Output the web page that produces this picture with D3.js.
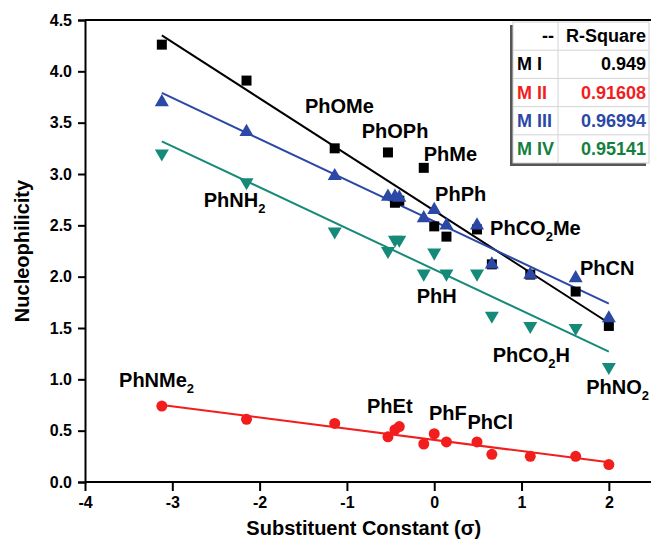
<!DOCTYPE html>
<html>
<head>
<meta charset="utf-8">
<script src="https://cdn.jsdelivr.net/npm/d3@7"></script>
<style>
  body { margin: 0; background: #fff; }
  text { font-family: "Liberation Sans", Arial, sans-serif; font-weight: bold; }
</style>
</head>
<body>
<div id="chart"></div>
<script>
// substituent constants shared by all four series
var sigma = [-3.12, -2.15, -1.14, -0.53, -0.45, -0.40, -0.12, 0.0, 0.14, 0.49, 0.66, 1.10, 1.62, 2.0];

var m1 = [4.26, 3.91, 3.25, 3.21, 2.72, 2.74, 3.06, 2.49, 2.39, 2.46, 2.12, 2.02, 1.855, 1.52];
var m2 = [0.74, 0.61, 0.57, 0.44, 0.51, 0.54, 0.37, 0.47, 0.39, 0.39, 0.27, 0.25, 0.25, 0.17];
var m3 = [3.70, 3.41, 2.98, 2.78, 2.78, 2.77, 2.57, 2.65, 2.50, 2.50, 2.12, 2.02, 1.985, 1.595];
var m4 = [3.20, 2.92, 2.44, 2.25, 2.36, 2.36, 2.03, 2.235, 2.03, 2.03, 1.62, 1.52, 1.50, 1.12];

// fitted lines (intercept, slope) as drawn in the figure
var fitIntercept = [2.643, 0.41, 2.539, 2.07];
var fitSlope = [-0.547, -0.109, -0.401, -0.400];

var seriesNames = ['M I', 'M II', 'M III', 'M IV'];
var rSquare = ['0.949', '0.91608', '0.96994', '0.95141'];

var xTicks = [-4, -3, -2, -1, 0, 1, 2];
var yTicks = [0, 0.5, 1, 1.5, 2, 2.5, 3, 3.5, 4, 4.5];

// compound labels: name, subscript, tail, sigma, value
var labels = [
  ['PhOMe', '', '', -1.48, 3.59],
  ['PhOPh', '', '', -0.83, 3.35],
  ['PhMe', '', '', -0.12, 3.13],
  ['PhPh', '', '', 0.01, 2.74],
  ['PhNH', '2', '', -2.64, 2.68],
  ['PhCO', '2', 'Me', 0.64, 2.41],
  ['PhCN', '', '', 1.67, 2.02],
  ['PhH', '', '', -0.20, 1.74],
  ['PhCO', '2', 'H', 0.67, 1.17],
  ['PhNO', '2', '', 1.74, 0.86],
  ['PhNMe', '2', '', -3.61, 0.93],
  ['PhEt', '', '', -0.77, 0.67],
  ['PhF', '', '', -0.06, 0.60],
  ['PhCl', '', '', 0.38, 0.52]
];

var width = 651, height = 541;
var margin = {left: 85, top: 20, right: -1.5, bottom: 59};

var svg = d3.select('#chart')
    .append('svg')
    .attr('width', width)
    .attr('height', height);

var x = d3.scaleLinear()
    .domain([-4, 2.5])
    .range([margin.left, width - margin.right]);

var y = d3.scaleLinear()
    .domain([0, 4.5])
    .range([height - margin.bottom, margin.top]);

var lineColors = ['#000000', '#f21d1d', '#2b48a6', '#158a78'];
var textColors = ['#000000', '#f21d1d', '#2b48a6', '#15803e'];

// frame top line
svg.append('line')
    .attr('x1', x(-4)).attr('x2', width)
    .attr('y1', y(4.5)).attr('y2', y(4.5))
    .attr('stroke', '#000').attr('stroke-width', 2);

// Axes
var xAxis = svg.append('g')
    .attr('transform', 'translate(0,' + y(0) + ')')
    .call(d3.axisBottom(x).tickValues(xTicks).tickSize(9).tickPadding(6)
        .tickFormat(function(d) { return String(d); }));

var yAxis = svg.append('g')
    .attr('transform', 'translate(' + x(-4) + ',0)')
    .call(d3.axisLeft(y).tickValues(yTicks).tickSize(7).tickPadding(6)
        .tickFormat(function(d) { return d.toFixed(1); }));

[xAxis, yAxis].forEach(function(g) {
  g.select('.domain').attr('stroke-width', 2).attr('stroke', '#000');
  g.selectAll('.tick line').attr('stroke-width', 2).attr('stroke', '#000');
  g.selectAll('.tick text')
      .attr('font-size', 16)
      .attr('font-family', '"Liberation Sans", Arial, sans-serif')
      .attr('font-weight', 'bold')
      .attr('fill', '#000');
});
xAxis.select('.domain').attr('d', 'M' + x(-4) + ',0H' + width);

// Axis titles
svg.append('text')
    .attr('x', (x(-4) + x(2.5)) / 2 - 5)
    .attr('y', 535)
    .attr('text-anchor', 'middle')
    .attr('font-size', 20)
    .text('Substituent Constant (\u03c3)');

svg.append('text')
    .attr('transform', 'translate(29,' + ((y(0) + y(4.5)) / 2) + ') rotate(-90)')
    .attr('text-anchor', 'middle')
    .attr('font-size', 20)
    .text('Nucleophilicity');

// Fit lines
fitIntercept.forEach(function(b, i) {
  var x0 = sigma[0], x1 = sigma[sigma.length - 1];
  svg.append('line')
      .attr('x1', x(x0)).attr('y1', y(b + fitSlope[i] * x0))
      .attr('x2', x(x1)).attr('y2', y(b + fitSlope[i] * x1))
      .attr('stroke', lineColors[i])
      .attr('stroke-width', 2);
});

// Markers
var pts = function(vals) {
  return vals.map(function(v, i) { return {s: sigma[i], v: v}; });
};

svg.append('g').selectAll('rect')
    .data(pts(m1))
    .enter()
    .append('rect')
    .attr('x', function(d) { return x(d.s) - 5; })
    .attr('y', function(d) { return y(d.v) - 5; })
    .attr('width', 10)
    .attr('height', 10)
    .attr('fill', lineColors[0]);

svg.append('g').selectAll('circle')
    .data(pts(m2))
    .enter()
    .append('circle')
    .attr('cx', function(d) { return x(d.s); })
    .attr('cy', function(d) { return y(d.v); })
    .attr('r', 5.5)
    .attr('fill', lineColors[1]);

var tri = d3.symbol().type(d3.symbolTriangle).size(85);

svg.append('g').selectAll('path')
    .data(pts(m3))
    .enter()
    .append('path')
    .attr('d', tri)
    .attr('transform', function(d) { return 'translate(' + x(d.s) + ',' + y(d.v) + ')'; })
    .attr('fill', lineColors[2]);

svg.append('g').selectAll('path')
    .data(pts(m4))
    .enter()
    .append('path')
    .attr('d', tri)
    .attr('transform', function(d) { return 'translate(' + x(d.s) + ',' + y(d.v) + ') rotate(180)'; })
    .attr('fill', lineColors[3]);

// Compound labels
var lab = svg.append('g').selectAll('text')
    .data(labels)
    .enter()
    .append('text')
    .attr('x', function(d) { return x(d[3]); })
    .attr('y', function(d) { return y(d[4]); })
    .attr('font-size', 20)
    .attr('fill', '#000');

lab.append('tspan').text(function(d) { return d[0]; });
lab.filter(function(d) { return d[1]; })
    .append('tspan')
    .attr('font-size', 13)
    .attr('dy', 6)
    .text(function(d) { return d[1]; });
lab.filter(function(d) { return d[2]; })
    .append('tspan')
    .attr('dy', -6)
    .text(function(d) { return d[2]; });

// R-Square table
var tx0 = 513, tx1 = 558, tx2 = 649, ty0 = 22, rowH = 28.2;
var table = svg.append('g');
table.append('rect')
    .attr('x', tx0 - 3).attr('y', ty0 + 3)
    .attr('width', tx2 - tx0).attr('height', rowH * 5)
    .attr('fill', '#555');
table.append('rect')
    .attr('x', tx0).attr('y', ty0)
    .attr('width', tx2 - tx0).attr('height', rowH * 5)
    .attr('fill', '#fff')
    .attr('stroke', '#cfcfcf');
d3.range(1, 5).forEach(function(r) {
  table.append('line')
      .attr('x1', tx0).attr('x2', tx2)
      .attr('y1', ty0 + r * rowH).attr('y2', ty0 + r * rowH)
      .attr('stroke', '#d4d4d4');
});
table.append('line')
    .attr('x1', tx1).attr('x2', tx1)
    .attr('y1', ty0).attr('y2', ty0 + rowH * 5)
    .attr('stroke', '#d4d4d4');

table.append('text')
    .attr('x', tx1 - 4).attr('y', ty0 + rowH / 2 + 6)
    .attr('text-anchor', 'end').attr('font-size', 18)
    .text('--');
table.append('text')
    .attr('x', tx2 - 3).attr('y', ty0 + rowH / 2 + 6)
    .attr('text-anchor', 'end').attr('font-size', 18)
    .text('R-Square');

seriesNames.forEach(function(n, i) {
  var cy = ty0 + rowH * (i + 1) + rowH / 2 + 6;
  table.append('text')
      .attr('x', tx0 + 4).attr('y', cy)
      .attr('font-size', 18)
      .attr('fill', textColors[i])
      .text(n);
  table.append('text')
      .attr('x', tx2 - 3).attr('y', cy)
      .attr('text-anchor', 'end')
      .attr('font-size', 18)
      .attr('fill', textColors[i])
      .text(rSquare[i]);
});
</script>
</body>
</html>
